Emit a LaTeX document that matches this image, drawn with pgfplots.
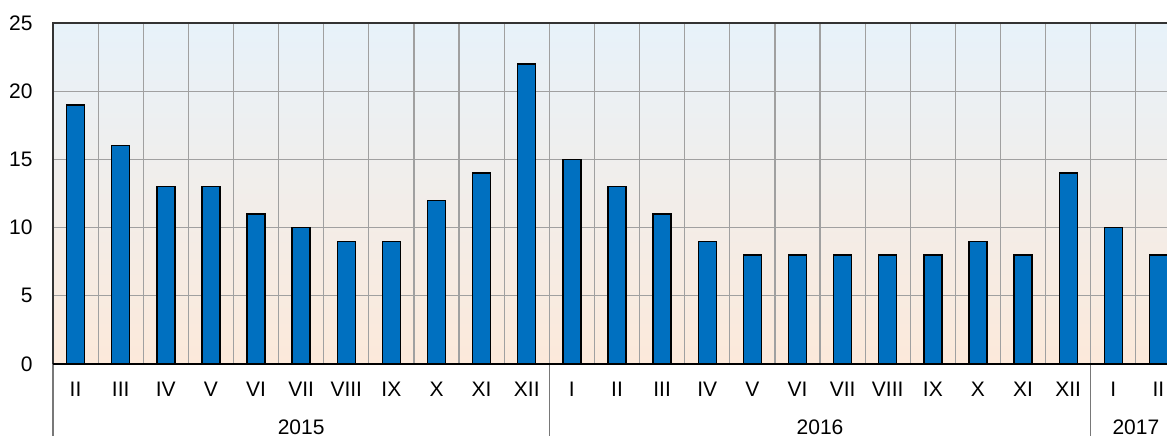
\documentclass[border=0pt]{standalone}
\usepackage{fontspec}
\setmainfont{Liberation Sans}
\usepackage{pgfplots}
\pgfplotsset{compat=1.18}
\definecolor{barblue}{RGB}{0,112,192}
\definecolor{gridgray}{RGB}{160,160,160}
\definecolor{bgtop}{RGB}{231,242,250}
\definecolor{bgbot}{RGB}{252,233,218}
\definecolor{sepgray}{RGB}{120,120,120}

\begin{document}
\fontsize{10.5}{12.6}\selectfont
\begin{tikzpicture}
\begin{axis}[
  scale only axis,
  width=564pt, height=170.5pt,
  xmin=-0.5, xmax=24.5, ymin=0, ymax=25,
  ytick={0,5,...,25},
  xtick={0,...,24},
  xticklabels={II,III,IV,V,VI,VII,VIII,IX,X,XI,XII,I,II,III,IV,V,VI,VII,VIII,IX,X,XI,XII,I,II},
  minor x tick num=1,
  xminorgrids, ymajorgrids,
  grid style={gridgray, line width=0.6pt},
  minor grid style={gridgray, line width=0.6pt},
  major tick length=0pt, minor tick length=0pt,
  axis line style={black!80, line width=0.7pt},
  axis background/.style={shade, top color=bgtop, bottom color=bgbot},
  ticklabel style={font=\fontsize{10.5}{12.6}\selectfont},
  /pgf/number format/assume math mode=true,
  yticklabel style={xshift=-6.5pt},
  xticklabel style={yshift=-5.5pt},
  clip=false,
  ybar, bar width=9pt,
]
\addplot[fill=barblue, draw=black, line width=0.7pt] coordinates {
  (0,19) (1,16) (2,13) (3,13) (4,11) (5,10) (6,9) (7,9) (8,12) (9,14) (10,22)
  (11,15) (12,13) (13,11) (14,9) (15,8) (16,8) (17,8) (18,8) (19,8) (20,9) (21,8) (22,14)
  (23,10) (24,8)
};
\draw[sepgray, line width=0.6pt] (axis cs:-0.5,0) -- ([yshift=-36pt]axis cs:-0.5,0);
\draw[sepgray, line width=0.6pt] (axis cs:10.5,0) -- ([yshift=-36pt]axis cs:10.5,0);
\draw[sepgray, line width=0.6pt] (axis cs:22.5,0) -- ([yshift=-36pt]axis cs:22.5,0);
\draw[black, line width=0.8pt] (axis cs:-0.5,0) -- (axis cs:24.5,0);
\node[anchor=north, inner sep=0pt] at ([yshift=-27.5pt]axis cs:5,0) {2015};
\node[anchor=north, inner sep=0pt] at ([yshift=-27.5pt]axis cs:16.5,0) {2016};
\node[anchor=north, inner sep=0pt] at ([yshift=-27.5pt]axis cs:23.5,0) {2017};
\end{axis}
\pgfresetboundingbox
\path ([shift={(-26.5pt,-36pt)}]current axis.south west) rectangle ([shift={(557pt,11.5pt)}]current axis.north west);
\end{tikzpicture}
\end{document}
